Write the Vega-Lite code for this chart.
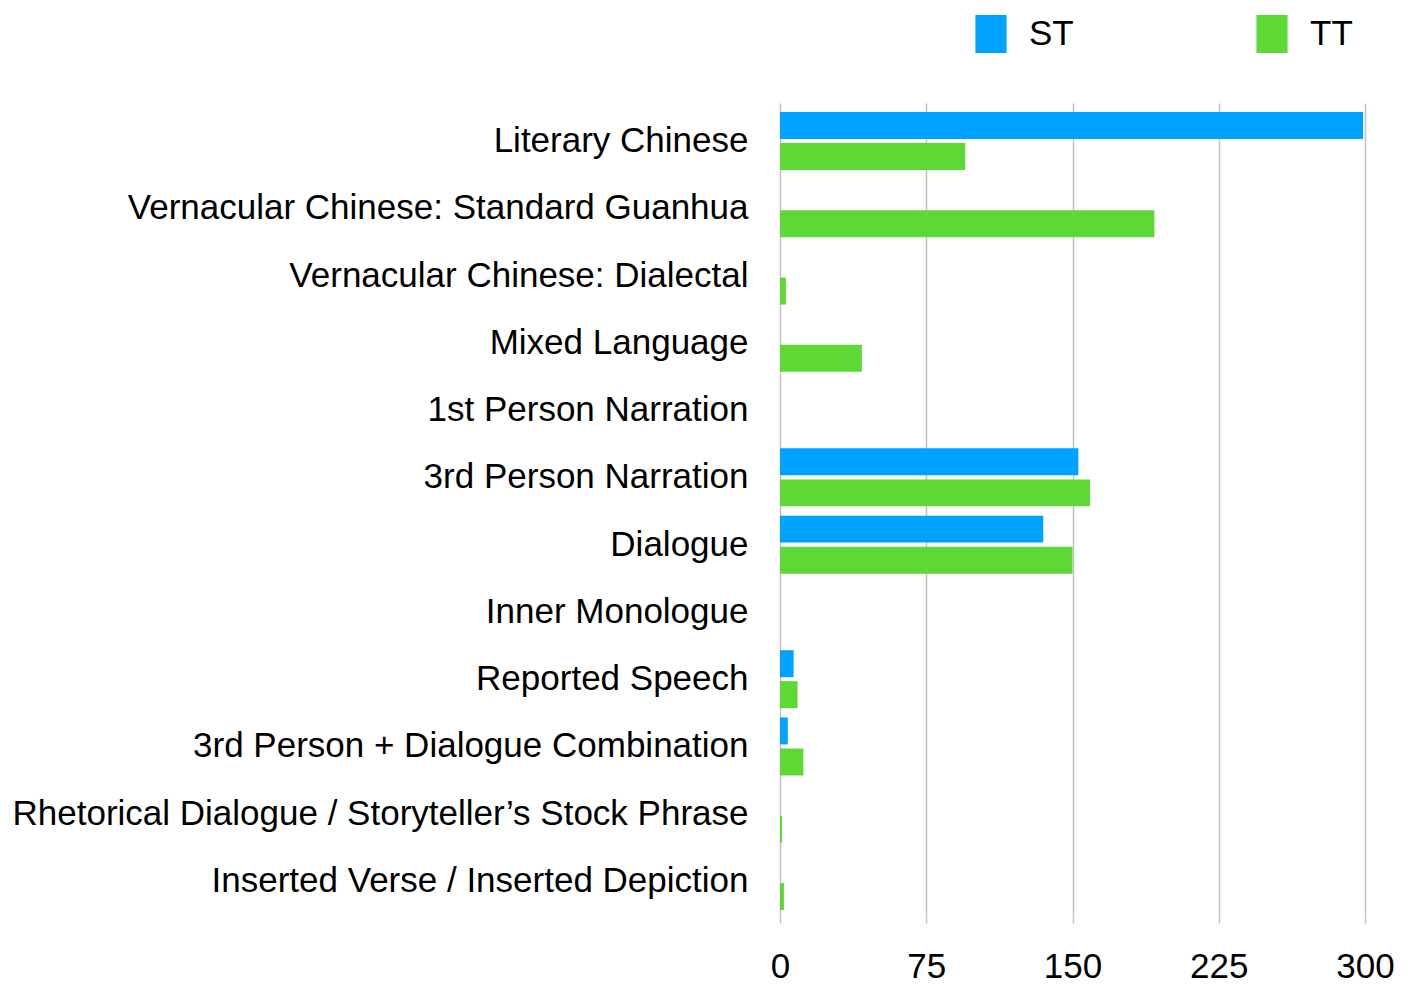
{
  "$schema": "https://vega.github.io/schema/vega-lite/v6.json",
  "autosize": {"type": "none"},
  "width": 585,
  "height": 816,
  "padding": {"left": 780, "top": 103, "right": 43, "bottom": 76},
  "background": "white",
  "config": {
    "view": {"stroke": null},
    "font": "Liberation Sans, Arial, sans-serif"
  },
  "data": {
    "values": [
      {"category": "Literary Chinese", "text": "ST", "count": 299},
      {"category": "Literary Chinese", "text": "TT", "count": 95},
      {"category": "Vernacular Chinese: Standard Guanhua", "text": "ST", "count": 0},
      {"category": "Vernacular Chinese: Standard Guanhua", "text": "TT", "count": 192},
      {"category": "Vernacular Chinese: Dialectal", "text": "ST", "count": 0},
      {"category": "Vernacular Chinese: Dialectal", "text": "TT", "count": 3},
      {"category": "Mixed Language", "text": "ST", "count": 0},
      {"category": "Mixed Language", "text": "TT", "count": 42},
      {"category": "1st Person Narration", "text": "ST", "count": 0},
      {"category": "1st Person Narration", "text": "TT", "count": 0},
      {"category": "3rd Person Narration", "text": "ST", "count": 153},
      {"category": "3rd Person Narration", "text": "TT", "count": 159},
      {"category": "Dialogue", "text": "ST", "count": 135},
      {"category": "Dialogue", "text": "TT", "count": 150},
      {"category": "Inner Monologue", "text": "ST", "count": 0},
      {"category": "Inner Monologue", "text": "TT", "count": 0},
      {"category": "Reported Speech", "text": "ST", "count": 7},
      {"category": "Reported Speech", "text": "TT", "count": 9},
      {"category": "3rd Person + Dialogue Combination", "text": "ST", "count": 4},
      {"category": "3rd Person + Dialogue Combination", "text": "TT", "count": 12},
      {"category": "Rhetorical Dialogue / Storyteller’s Stock Phrase", "text": "ST", "count": 0},
      {"category": "Rhetorical Dialogue / Storyteller’s Stock Phrase", "text": "TT", "count": 1},
      {"category": "Inserted Verse / Inserted Depiction", "text": "ST", "count": 0},
      {"category": "Inserted Verse / Inserted Depiction", "text": "TT", "count": 2}
    ]
  },
  "mark": {"type": "bar"},
  "encoding": {
    "y": {
      "field": "category",
      "type": "nominal",
      "sort": null,
      "scale": {"paddingInner": 0.138, "paddingOuter": 0.134},
      "axis": {
        "title": null,
        "ticks": false,
        "domain": false,
        "labelFontSize": 35,
        "labelColor": "#000000",
        "labelPadding": 32,
        "labelLimit": 0
      }
    },
    "yOffset": {
      "field": "text",
      "type": "nominal",
      "scale": {"paddingInner": 0.13, "paddingOuter": 0}
    },
    "x": {
      "field": "count",
      "type": "quantitative",
      "scale": {"domain": [0, 300], "nice": false},
      "axis": {
        "title": null,
        "values": [0, 75, 150, 225, 300],
        "grid": true,
        "gridColor": "#c2c2c2",
        "gridWidth": 1.5,
        "domain": false,
        "ticks": true,
        "tickSize": 4,
        "tickColor": "#c2c2c2",
        "tickWidth": 1.5,
        "labelFontSize": 35,
        "labelColor": "#000000",
        "labelPadding": 26,
        "labelFlush": false
      }
    },
    "color": {
      "field": "text",
      "type": "nominal",
      "scale": {"domain": ["ST", "TT"], "range": ["#00A2FF", "#5DD835"]},
      "legend": {
        "title": null,
        "orient": "none",
        "direction": "horizontal",
        "legendX": 192,
        "legendY": -88,
        "padding": 0,
        "symbolType": "M-0.82,-1H0.82V1H-0.82Z",
        "symbolSize": 1444,
        "symbolStrokeWidth": 0,
        "labelFontSize": 35,
        "labelColor": "#000000",
        "labelOffset": 19,
        "columnPadding": 179
      }
    }
  }
}
